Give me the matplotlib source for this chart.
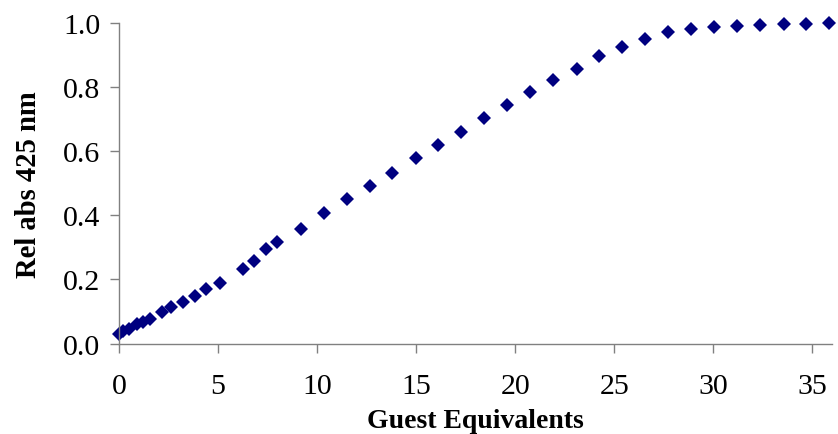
import numpy as np
import matplotlib.pyplot as plt

# titration: guest equivalents vs relative absorbance at 425 nm
equiv = [0.0, 0.22, 0.52, 0.9, 1.23, 1.57, 2.16, 2.63, 3.22, 3.84, 4.39, 5.1,
         6.28, 6.82, 7.41, 8.0, 9.18, 10.35, 11.5, 12.65, 13.8, 14.98, 16.12,
         17.28, 18.44, 19.6, 20.77, 21.92, 23.1, 24.25, 25.4, 26.56, 27.72,
         28.88, 30.05, 31.2, 32.37, 33.55, 34.7, 35.85]
rel_abs = [0.03, 0.04, 0.045, 0.06, 0.066, 0.077, 0.097, 0.113, 0.131, 0.149,
           0.17, 0.188, 0.233, 0.259, 0.295, 0.317, 0.357, 0.408, 0.451, 0.491,
           0.533, 0.579, 0.62, 0.66, 0.704, 0.745, 0.785, 0.824, 0.859, 0.899,
           0.927, 0.952, 0.972, 0.983, 0.99, 0.993, 0.996, 0.998, 0.999, 1.0]

xticks = [0, 5, 10, 15, 20, 25, 30, 35]
yticks = [0.0, 0.2, 0.4, 0.6, 0.8, 1.0]

plt.rcParams['font.family'] = ['Liberation Serif', 'DejaVu Serif']

fig = plt.figure(figsize=(8.38, 4.35), dpi=100, facecolor='white')
ax = fig.add_axes([0.142, 0.208, 0.851, 0.736])

ax.plot(equiv, rel_abs, linestyle='none', marker='D', markersize=7.2,
        color='#000080', markeredgewidth=0, clip_on=False)

ax.set_xlim(0, 36)
ax.set_ylim(0, 1.0)
ax.set_xticks(xticks)
ax.set_yticks(yticks)
ax.set_yticklabels([f'{v:.1f}' for v in yticks])
ax.tick_params(axis='both', direction='out', length=6.5, width=1.0,
               color='#808080', labelsize=21.5, pad=7)
ax.tick_params(axis='x', pad=15)

for side in ('top', 'right'):
    ax.spines[side].set_visible(False)
for side in ('left', 'bottom'):
    ax.spines[side].set_color('#808080')
    ax.spines[side].set_linewidth(1.0)

ax.set_xlabel('Guest Equivalents', fontsize=20, fontweight='bold', labelpad=6)
ax.set_ylabel('Rel abs 425 nm', fontsize=20.6, fontweight='bold', labelpad=15)

fig.savefig('out.png', dpi=100, facecolor='white')
